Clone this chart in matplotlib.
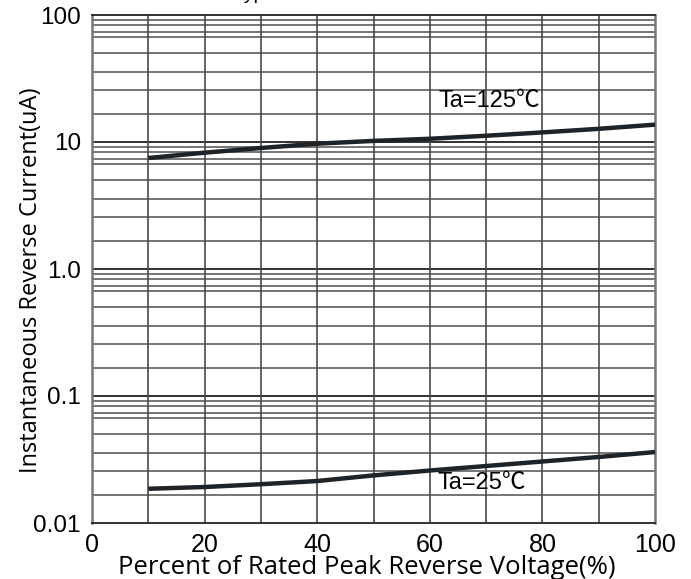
import numpy as np
import matplotlib.pyplot as plt

# readings (percent of rated voltage vs leakage current, uA)
pct = [10, 20, 30, 40, 50, 60, 70, 80, 90, 100]
ir_125 = [7.48, 8.24, 8.97, 9.7, 10.2, 10.6, 11.2, 11.9, 12.7, 13.7]
ir_25 = [0.0186, 0.0192, 0.0202, 0.0214, 0.0237, 0.0259, 0.0281, 0.0305, 0.0331, 0.0362]

x_ticks = [0, 20, 40, 60, 80, 100]
y_ticks = [0.01, 0.1, 1, 10, 100]
y_tick_labels = ["0.01", "0.1", "1.0", "10", "100"]

# the printed grid is not a true log grid, these are the line spots inside each decade
grid_frac = [0.22, 0.413, 0.555, 0.70, 0.827, 0.87, 0.921, 0.961]

fig = plt.figure(figsize=(6.91, 5.79), dpi=100)
ax = fig.add_axes([92 / 691, 1 - 523 / 579, (655 - 92) / 691, (523 - 15) / 579])
ax.set_yscale("log")
ax.set_xlim(0, 100)
ax.set_ylim(0.01, 100)

# grid
for d in range(-2, 2):
    for f in grid_frac:
        ax.axhline(10 ** (d + f), color="#5e5e5e", lw=1.2, zorder=1)
for d in range(-1, 2):
    ax.axhline(10.0 ** d, color="#222222", lw=1.3, zorder=1)
for xv in range(10, 100, 10):
    ax.axvline(xv, color="#4a4a4a", lw=1.2, zorder=1)

ax.plot(pct, ir_125, color="#1e2328", lw=3.2, solid_capstyle="butt", zorder=3)
ax.plot(pct, ir_25, color="#1e2328", lw=3.2, solid_capstyle="butt", zorder=3)

lab_font = ["Liberation Sans", "Noto Sans CJK SC", "DejaVu Sans"]
ax.text(61.5, 21, "Ta=125℃", family=lab_font, fontsize=17, ha="left", va="center", zorder=4)
ax.text(61.3, 0.0207, "Ta=25℃", family=lab_font, fontsize=17, ha="left", va="center", zorder=4)

ax.set_xticks(x_ticks)
ax.set_xticklabels([str(v) for v in x_ticks], family="Liberation Sans", fontsize=18)
ax.set_yticks(y_ticks)
ax.set_yticklabels(y_tick_labels, family="Liberation Sans", fontsize=17.5)
ax.yaxis.set_minor_locator(plt.NullLocator())
ax.tick_params(axis="x", length=0, pad=7)
ax.tick_params(axis="y", length=0, pad=8)

ax.set_xlabel("Percent of Rated Peak Reverse Voltage(%)", family="Open Sans", fontsize=18.5,
              va="center")
ax.xaxis.set_label_coords(0.488, -0.088)
ax.set_ylabel("Instantaneous Reverse Current(uA)", family="Open Sans", fontsize=17,
              va="center")
ax.yaxis.set_label_coords(-0.108, 0.478)

for side in ["top", "bottom"]:
    ax.spines[side].set_color("#222222")
    ax.spines[side].set_linewidth(1.3)
for side in ["left", "right"]:
    ax.spines[side].set_color("#777777")
    ax.spines[side].set_linewidth(1.8)

# title is cut off at the top edge of the original scan
fig.text(233 / 691, 1 + 1 / 579, "Typical Reverse Characteristics", family="Liberation Sans",
         fontsize=14, ha="left", va="baseline")

fig.savefig("out.png", dpi=100)
